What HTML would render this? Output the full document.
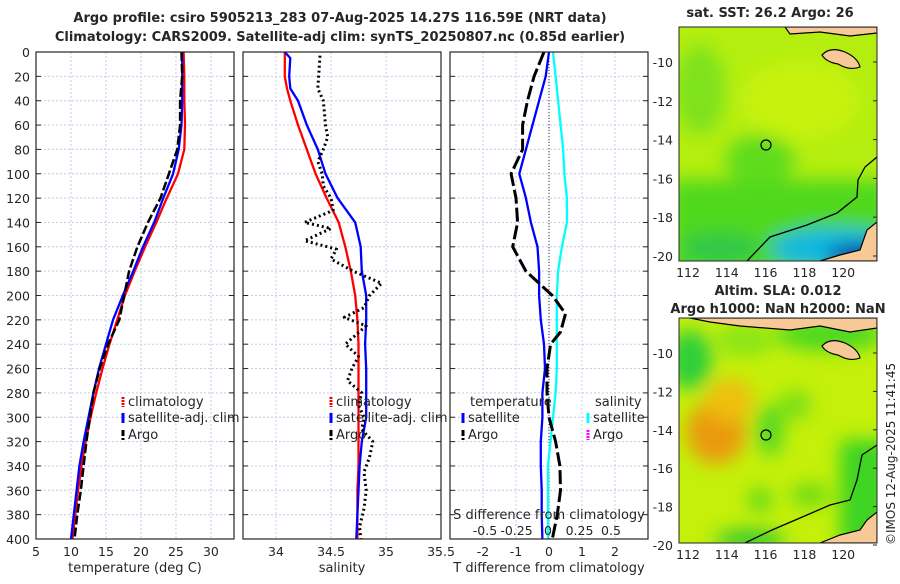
<!DOCTYPE html>
<html><head><meta charset="utf-8"><style>
body{margin:0;background:#fff;width:900px;height:580px;overflow:hidden;font-family:"DejaVu Sans","Liberation Sans",sans-serif}
svg text{font-family:"DejaVu Sans","Liberation Sans",sans-serif;fill:#262626}
</style></head><body>
<svg id="c" width="900" height="580" viewBox="0 0 900 580" xmlns="http://www.w3.org/2000/svg">
<defs>
<filter id="bl" x="-50%" y="-50%" width="200%" height="200%"><feGaussianBlur stdDeviation="9"/></filter>
<clipPath id="m1c"><rect x="679" y="27" width="198" height="234"/></clipPath>
<clipPath id="m2c"><rect x="679" y="318" width="198" height="225"/></clipPath>
</defs>
<text x="340" y="22" text-anchor="middle" font-weight="bold" font-size="13">Argo profile: csiro 5905213_283 07-Aug-2025 14.27S 116.59E (NRT data)</text>
<text x="340" y="41" text-anchor="middle" font-weight="bold" font-size="13">Climatology: CARS2009. Satellite-adj clim: synTS_20250807.nc (0.85d earlier)</text>
<g id="plots"></g>
<!-- map 1 -->
<g clip-path="url(#m1c)">
<rect x="679" y="27" width="198" height="234" fill="#b4ee10"/>
<g filter="url(#bl)">
<ellipse cx="700" cy="90" rx="25" ry="45" fill="#7ee21a"/>
<ellipse cx="800" cy="100" rx="60" ry="40" fill="#c6f20a"/>
<rect x="670" y="180" width="220" height="100" fill="#4fd81c"/>
<ellipse cx="760" cy="160" rx="35" ry="25" fill="#5edc1a"/>
<ellipse cx="720" cy="248" rx="40" ry="15" fill="#2ec848"/>
<ellipse cx="835" cy="248" rx="65" ry="20" fill="#10b8e0"/>
<ellipse cx="862" cy="256" rx="35" ry="12" fill="#0a30a8"/>
</g>
<path d="M785,27 L877,27 L877,33 L850,36 L820,32 L790,34 Z" fill="#f6c996" stroke="#000" stroke-width="1.2"/>
<path d="M822,55 Q830,46 845,52 Q858,58 860,67 Q850,71 838,64 Q826,62 822,55Z" fill="#f6c996" stroke="#000" stroke-width="1.2"/>
<path d="M867,230 L877,222 L877,261 L820,261 L840,255 L860,250 Z" fill="#f6c996" stroke="#000" stroke-width="1.2"/>
<polyline points="747,261 770,237 807,225 837,213 857,197 858,180 865,167 877,157" fill="none" stroke="#000" stroke-width="1.3"/>
<circle cx="766" cy="145" r="5" fill="none" stroke="#000" stroke-width="1.2"/>
</g>
<rect x="679" y="27" width="198" height="234" fill="none" stroke="#262626" stroke-width="1"/>
<text x="770" y="17" text-anchor="middle" font-weight="bold" font-size="13">sat. SST: 26.2 Argo: 26</text>
<!-- map 2 -->
<g clip-path="url(#m2c)">
<rect x="679" y="318" width="198" height="225" fill="#c4f00a"/>
<g filter="url(#bl)">
<ellipse cx="690" cy="360" rx="22" ry="30" fill="#2ecf3a"/>
<ellipse cx="745" cy="340" rx="30" ry="16" fill="#8ae414"/>
<ellipse cx="830" cy="335" rx="55" ry="16" fill="#4cd820"/>
<ellipse cx="716" cy="432" rx="30" ry="32" fill="#ea9a10"/>
<ellipse cx="730" cy="400" rx="25" ry="22" fill="#eec00c"/>
<ellipse cx="770" cy="430" rx="14" ry="26" fill="#58d820"/>
<ellipse cx="795" cy="405" rx="16" ry="15" fill="#7ade18"/>
<ellipse cx="760" cy="500" rx="12" ry="12" fill="#5cd81e"/>
<ellipse cx="810" cy="495" rx="20" ry="12" fill="#70dc18"/>
<rect x="840" y="440" width="50" height="110" fill="#3cd420"/>
<ellipse cx="750" cy="540" rx="35" ry="10" fill="#2ec830"/>
</g>
<path d="M690,318 L877,318 L877,328 L850,332 L820,326 L790,330 L740,326 L710,322 Z" fill="#f6c996" stroke="#000" stroke-width="1.2"/>
<path d="M822,346 Q830,337 845,343 Q858,349 860,358 Q850,362 838,355 Q826,353 822,346Z" fill="#f6c996" stroke="#000" stroke-width="1.2"/>
<path d="M867,520 L877,512 L877,543 L820,543 L840,535 L860,530 Z" fill="#f6c996" stroke="#000" stroke-width="1.2"/>
<polyline points="745,543 772,530 800,518 830,505 850,500 857,480 862,455 877,445" fill="none" stroke="#000" stroke-width="1.3"/>
<circle cx="766" cy="435" r="5" fill="none" stroke="#000" stroke-width="1.2"/>
</g>
<rect x="679" y="318" width="198" height="225" fill="none" stroke="#262626" stroke-width="1"/>
<text x="778" y="295" text-anchor="middle" font-weight="bold" font-size="13">Altim. SLA: 0.012</text>
<text x="778" y="313" text-anchor="middle" font-weight="bold" font-size="13">Argo h1000: NaN h2000: NaN</text>
<text transform="translate(895,545) rotate(-90)" font-size="12">©IMOS 12-Aug-2025 11:41:45</text>
<g id="mapaxes"></g>
</svg>
<script>
const depths=[0,20,40,60,80,100,120,140,160,180,200,220,240,260,280,300,320,340,360,380,400];
const tempClim=[26.1,26.2,26.2,26.3,26.2,25.3,23.7,22.2,20.6,19.1,17.7,16.6,15.5,14.5,13.6,12.8,12.1,11.5,11.0,10.6,10.2];
const tempSat=[25.9,25.9,25.9,25.8,25.4,24.6,23.2,21.9,20.3,18.9,17.4,16.0,15.0,14.0,13.2,12.5,11.8,11.2,10.8,10.4,10.0];
const tempArgo=[25.8,25.9,25.6,25.6,25.2,24.0,22.8,21.0,19.5,18.3,17.6,16.9,15.3,14.1,13.2,12.7,12.2,11.8,11.4,10.9,10.5];
const salDepths=[0,5,20,30,40,60,80,100,120,140,160,180,200,220,240,260,280,300,320,340,360,380,400];
const salClim=[34.08,34.08,34.08,34.1,34.13,34.2,34.28,34.36,34.46,34.57,34.63,34.68,34.72,34.74,34.75,34.75,34.75,34.75,34.75,34.75,34.74,34.74,34.74];
const salSat=[34.08,34.13,34.12,34.13,34.2,34.28,34.38,34.45,34.56,34.72,34.77,34.78,34.82,34.82,34.81,34.82,34.82,34.82,34.78,34.76,34.75,34.74,34.73];
const argoSalDepths=[3,30,40,60,70,80,90,100,110,120,130,140,145,155,162,170,180,190,200,210,218,225,240,250,260,270,280,290,300,310,320,333,345,360,375,390,400];
const argoSal=[34.4,34.38,34.43,34.45,34.47,34.43,34.38,34.42,34.43,34.5,34.52,34.26,34.5,34.26,34.55,34.5,34.7,34.96,34.85,34.8,34.62,34.82,34.63,34.75,34.69,34.65,34.78,34.75,34.8,34.78,34.88,34.85,34.8,34.82,34.8,34.76,34.77];
const dTSat=[0,-0.1,-0.3,-0.5,-0.7,-0.9,-0.7,-0.55,-0.35,-0.3,-0.3,-0.25,-0.15,-0.12,-0.2,-0.2,-0.25,-0.25,-0.22,-0.22,-0.2];
const dSSat=[0.04,0.06,0.08,0.1,0.12,0.13,0.15,0.15,0.11,0.08,0.07,0.07,0.07,0.07,0.06,0.04,0.02,0,0,0,0];
const dTArgoDepths=[0,20,40,60,80,100,120,140,160,180,200,215,230,240,260,280,300,320,340,360,380,400];
const dTArgo=[-0.15,-0.45,-0.65,-0.8,-0.8,-1.15,-1.0,-0.95,-1.1,-0.7,0.1,0.5,0.35,0.05,-0.06,-0.06,0,0.2,0.33,0.35,0.25,0.1];
const depthTicks=[0,20,40,60,80,100,120,140,160,180,200,220,240,260,280,300,320,340,360,380,400];
const tTicks=[5,10,15,20,25,30];
const sTicks=[34,34.5,35,35.5];
const dtTicks=[-2,-1,0,1,2];
const dsTicks=[-0.5,-0.25,0,0.25,0.5];
const dsLabels=['-0.5','-0.25','0','0.25','0.5'];
const lonTicks=[112,114,116,118,120];
const latTicks=[-10,-12,-14,-16,-18,-20];

const NS='http://www.w3.org/2000/svg';
const G=document.getElementById('plots');
function mk(tag,attrs,parent){const e=document.createElementNS(NS,tag);for(const k in attrs)e.setAttribute(k,attrs[k]);(parent||G).appendChild(e);return e;}
const Y0=52,Y1=539;
const yD=d=>Y0+d*(Y1-Y0)/400;
const panels=[{x0:36,x1:234,min:5,max:33.3,name:'temperature'},{x0:243,x1:441,min:33.7,max:35.5,name:'salinity'},{x0:450,x1:648,min:-3,max:3,name:'difference'}];
const sx=(p,v)=>p.x0+(v-p.min)*(p.x1-p.x0)/(p.max-p.min);
const dsx=v=>548+v*126;

function panelBase(p,ticks,labels,xlabel){
  const g=mk('g',{});
  
  
  depthTicks.forEach(d=>{const l=mk('line',{x1:p.x0,x2:p.x1,y1:yD(d),y2:yD(d),stroke:'#c4cce6','stroke-width':1,'stroke-dasharray':'2,2'},g);
    
    
    mk('line',{x1:p.x0,x2:p.x0+5,y1:yD(d),y2:yD(d),stroke:'#262626'},g);mk('line',{x1:p.x1-5,x2:p.x1,y1:yD(d),y2:yD(d),stroke:'#262626'},g);});
  ticks.forEach((t,i)=>{const x=sx(p,t);const l=mk('line',{x1:x,x2:x,y1:Y0,y2:Y1,stroke:'#c4cce6','stroke-width':1,'stroke-dasharray':'2,2'},g);
    
    
    const tx=mk('text',{x:x,y:Y1+17,'text-anchor':'middle','font-size':12.5},g);tx.textContent=labels[i];
    
    });
  const xl=mk('text',{x:(p.x0+p.x1)/2,y:Y1+33,'text-anchor':'middle','font-size':13},g);xl.textContent=xlabel;
  
  
  return g;
}
function frame(p){const r=mk('rect',{x:p.x0,y:Y0,width:p.x1-p.x0,height:Y1-Y0,fill:'none',stroke:'#262626','stroke-width':1.2});
  
  }
function line(xs,ds,xf,color,w,dash,name){
  const pts=xs.map((v,i)=>xf(v).toFixed(1)+','+yD(ds[i]).toFixed(1)).join(' ');
  const a={points:pts,fill:'none',stroke:color,'stroke-width':w,'stroke-linejoin':'round'};if(dash)a['stroke-dasharray']=dash;
  const e=mk('polyline',a);
  
  return e;}
function legend(x,y,color,dash,label,name){
  const m=mk('line',{x1:x,x2:x,y1:y-9,y2:y+1,stroke:color,'stroke-width':3});if(dash)m.setAttribute('stroke-dasharray',dash);
  
  
  const t=mk('text',{x:x+5,y:y,'font-size':13});t.textContent=label;
  
  }

depthTicks.forEach(d=>{const t=mk('text',{x:30,y:yD(d)+5,'text-anchor':'end','font-size':12.5});t.textContent=d;
  
  });

const p1=panels[0],p2=panels[1],p3=panels[2];
panelBase(p1,tTicks,tTicks.map(String),'temperature (deg C)');
line(tempClim,depths,v=>sx(p1,v),'#ff0000',2.3,null,'temp-climatology-line');
line(tempSat,depths,v=>sx(p1,v),'#0000ff',2.3,null,'temp-satellite-line');
line(tempArgo,depths,v=>sx(p1,v),'#000',2.5,'9,3','temp-argo-line');
frame(p1);
legend(123,406,'#ff0000','2,1','climatology','legend-climatology');
legend(123,422,'#0000ff',null,'satellite-adj. clim','legend-satellite-adj');
legend(123,439,'#000','6,2','Argo','legend-argo');

panelBase(p2,sTicks,sTicks.map(String),'salinity');
line(salClim,salDepths,v=>sx(p2,v),'#ff0000',2.3,null,'sal-climatology-line');
line(salSat,salDepths,v=>sx(p2,v),'#0000ff',2.3,null,'sal-satellite-line');
line(argoSal,argoSalDepths,v=>sx(p2,v),'#000',3,'2,3','sal-argo-line');
frame(p2);
legend(331,406,'#ff0000','2,1','climatology','legend-climatology-2');
legend(331,422,'#0000ff',null,'satellite-adj. clim','legend-satellite-adj-2');
legend(331,439,'#000','6,2','Argo','legend-argo-2');

panelBase(p3,dtTicks,dtTicks.map(String),'T difference from climatology');
const z=mk('line',{x1:549,x2:549,y1:Y0,y2:Y1,stroke:'#333','stroke-width':1,'stroke-dasharray':'1,2'});


line(dTSat,depths,v=>sx(p3,v),'#0000ff',2.3,null,'dt-satellite-line');
line(dSSat,depths,dsx,'#00ffff',2.3,null,'ds-satellite-line');
line(dTArgo,dTArgoDepths,v=>sx(p3,v),'#000',3,'14,4','dt-argo-line');
frame(p3);
let tt=mk('text',{x:470,y:406,'font-size':13});tt.textContent='temperature';


tt=mk('text',{x:595,y:406,'font-size':13});tt.textContent='salinity';


legend(463,422,'#0000ff',null,'satellite','legend-t-satellite');
legend(463,439,'#000','6,2','Argo','legend-t-argo');
legend(588,422,'#00ffff',null,'satellite','legend-s-satellite');
legend(588,439,'#ff00ff','2,1','Argo','legend-s-argo');
tt=mk('text',{x:549,y:519,'text-anchor':'middle','font-size':13});tt.textContent='S difference from climatology';


dsTicks.forEach((v,i)=>{const t=mk('text',{x:dsx(v),y:535,'text-anchor':'middle','font-size':12.5});t.textContent=dsLabels[i];
  
  });

const MA=document.getElementById('mapaxes');
const lonX=l=>688+(l-112)*19.4;
[[62,19.4,261],[353,19.2,543]].forEach(([y10,s,yb])=>{
  lonTicks.forEach(l=>{const t=mk('text',{x:lonX(l),y:yb+16,'text-anchor':'middle','font-size':12.5},MA);t.textContent=l;
    
    });
  latTicks.forEach(l=>{const y=y10+(-10-l)*s;const t=mk('text',{x:673,y:y+5,'text-anchor':'end','font-size':12.5},MA);t.textContent=l;
    
    
    mk('line',{x1:877,x2:873,y1:y,y2:y,stroke:'#262626'},MA);});
});
</script>
</body></html>
